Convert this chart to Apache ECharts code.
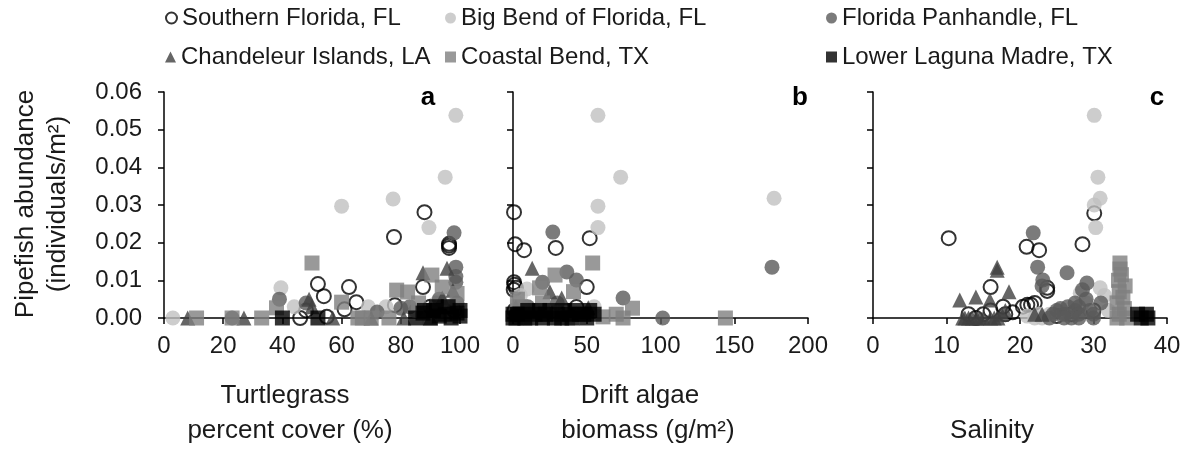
<!DOCTYPE html>
<html>
<head>
<meta charset="utf-8">
<script src="https://cdn.jsdelivr.net/npm/echarts@6/dist/echarts.min.js"></script>
<style>
html, body { margin: 0; padding: 0; background: #fff; }
#chart { width: 1187px; height: 456px; }
</style>
</head>
<body>
<div id="chart"></div>
<script>
var regions = ['Southern Florida, FL', 'Big Bend of Florida, FL', 'Florida Panhandle, FL',
    'Chandeleur Islands, LA', 'Coastal Bend, TX', 'Lower Laguna Madre, TX'];
var yTicks = [0, 0.01, 0.02, 0.03, 0.04, 0.05, 0.06];

// panel a: turtlegrass percent cover (%) vs abundance
var southA = [[46,0],[48,0.002],[52,0.009],[54,0.0058],[55,0.0003],[61,0.0023],[62.5,0.0082],[65,0.0042],
    [77.7,0.0215],[78,0.0034],[88,0.0281],[87.5,0.0082],[96.3,0.0186],[96.3,0.0192],[96.3,0.0197],[90,0.003],[98,0.002]];
var bigBendA = [[3,0],[39.5,0.008],[44,0.003],[60,0.0297],[69,0.003],[75,0.003],[77.4,0.0316],[89.5,0.024],
    [95,0.0374],[98.6,0.0538],[85,0.002],[92,0.004]];
var panhandleA = [[23,0],[39,0.005],[48,0.004],[72,0.0016],[80,0.0026],[83,0.003],[98,0.0226],[98.6,0.0135],
    [98.6,0.011],[98.6,0.0095],[93,0.005],[99,0.004]];
var chandeleurA = [[8,0],[27,0],[49,0.005],[57,0],[81,0],[87.5,0.012],[95.6,0.0132],[94,0.0053],[97.6,0.0074],
    [50,0.003],[70,0],[90,0]];
var coastalA = [[11,0],[23,0],[33,0],[38,0.0027],[50,0.0146],[60,0.0042],[65.5,0],[67,0],[70,0],[76,0],
    [78.6,0.0074],[82.3,0.0069],[90.5,0.0114],[94,0.0082],[86,0.004],[97,0.003],[99,0.0065],[92,0.0018]];
var lagunaA = [[40,0],[52,0],[87.5,0.0013],[91,0.002],[99,0.0013],[95,0.001],[100,0.002],[90,0],[97,0],[85,0],
    [88,0.002],[93,0.0005],[96,0.003],[100,0.0005],[92,0.003]];

// panel b: drift algae biomass (g/m2) vs abundance
var southB = [[0.7,0.0281],[1.4,0.0196],[7.5,0.018],[29,0.0186],[52,0.0212],[0.7,0.0095],[1,0.0088],[2,0.008],
    [0.5,0.0075],[50,0.0082],[43,0.0029],[1,0.002],[3,0.001]];
var bigBendB = [[57.6,0.0538],[73,0.0374],[57.6,0.0297],[57.6,0.024],[177,0.0318],[9.5,0.0077],[3,0.004],
    [15,0.002],[55,0.003],[5,0.006]];
var panhandleB = [[27,0.0228],[36.5,0.0122],[43,0.0101],[20,0.0095],[74.6,0.0053],[101.5,0],[175.6,0.0135],
    [10,0.003],[30,0.004]];
var chandeleurB = [[13,0.0132],[25,0.007],[33,0.0053],[51,0.0027],[2,0.003],[40,0.001],[20,0.001]];
var coastalB = [[54,0.0146],[28.5,0.0114],[18,0.008],[41,0.007],[81,0.0026],[74.6,0],[61,0.0003],[37,0],
    [144,0],[3,0.005],[5,0.003],[70,0.001],[20,0.004]];
var lagunaB = [[2,0],[5,0.001],[10,0.002],[15,0.001],[20,0],[25,0.002],[30,0.001],[35,0.002],[40,0],
    [45,0.001],[50,0],[55,0.001],[8,0],[28,0],[3,0.001],[12,0],[18,0.002],[22,0.001],[33,0],[38,0.001],
    [42,0.002],[48,0.001],[52,0.002],[0,0.001],[0,0]];

// panel c: salinity vs abundance
var southC = [[10.3,0.0212],[16,0.0082],[16,0.002],[17.7,0.003],[20.4,0.003],[20.9,0.0189],[22.6,0.018],
    [23.7,0.008],[23.7,0.0072],[28.5,0.0196],[30.1,0.0278],[15,0.001],[19,0.0015],[21,0.0035],[25,0.0005],[30,0.002],
    [13,0.001],[14,0],[18,0.001],[21.5,0.0035],[22,0.004],[27,0.001]];
var bigBendC = [[30.1,0.0538],[30.6,0.0374],[30.9,0.0318],[30.1,0.03],[30.3,0.024],[30.9,0.008],[28.2,0.0066],
    [21,0.0005],[22,0],[24,0.001],[29,0.004],[32,0.002],[22.5,0.001],[23,0],[26,0.001],[31.5,0.006]];
var panhandleC = [[21.8,0.0226],[22.4,0.0135],[23.1,0.0101],[23,0.0085],[26.4,0.012],[29.1,0.0093],[25,0.002],
    [26,0.001],[27,0],[28,0.003],[29,0.005],[30,0.001],[31,0.004],[24,0],[28.5,0.0075],[27.5,0.002],
    [25.5,0.0025],[26.5,0.003],[27.5,0.004],[28,0.001],[29.5,0.002],[26,0],[28,0],[30,0],[24.5,0.001]];
var chandeleurC = [[11.8,0.0048],[12.2,0],[14,0.0056],[14.1,0],[15.9,0.0048],[16.9,0.0127],[16.9,0.0135],
    [18.5,0.007],[15,0],[16,0],[17,0],[18,0.002],[13,0],[22,0.001],[12.5,0],[13.5,0],[14.5,0],[16.5,0],
    [17.5,0.001],[23,0.001]];
var coastalC = [[33.6,0.0146],[33.6,0.013],[33.8,0.0115],[33.4,0.01],[34.3,0.0085],[33.5,0.007],[34,0.0055],
    [33.2,0.004],[34.2,0.0025],[33.5,0.001],[33.2,0],[34.5,0]];
var lagunaC = [[36,0.001],[37.2,0.001],[36.5,0],[37.4,0]];

var panelData = [
    [southA, bigBendA, panhandleA, chandeleurA, coastalA, lagunaA],
    [southB, bigBendB, panhandleB, chandeleurB, coastalB, lagunaB],
    [southC, bigBendC, panhandleC, chandeleurC, coastalC, lagunaC]
];
var xRanges = [[0, 100, 20], [0, 200, 50], [0, 40, 10]];

var symbols = ['circle', 'circle', 'circle', 'triangle', 'rect', 'rect'];
var itemStyles = [
    {color: 'rgba(255,255,255,0)', borderColor: '#000', borderWidth: 2},
    {color: '#c0c0c0'},
    {color: '#5a5a5a'},
    {color: '#404040'},
    {color: '#808080'},
    {color: '#000'}
];
var symbolSizes = [14, 15, 15, 15, 15, 15];

var font = 'Liberation Sans, Arial, sans-serif';
var axisLineStyle = {color: '#000', width: 1.5};

var myChart = echarts.init(document.getElementById('chart'));

var grids = [], xAxes = [], yAxes = [], series = [];
var lefts = [164, 513, 873];
var widths = [296, 295, 294];
for (var p = 0; p < 3; p++) {
    grids.push({left: lefts[p], top: 92, width: widths[p], height: 226});
    xAxes.push({
        gridIndex: p, type: 'value',
        min: xRanges[p][0], max: xRanges[p][1], interval: xRanges[p][2],
        axisLine: {show: true, onZero: false, lineStyle: axisLineStyle},
        axisTick: {show: true, length: 6, lineStyle: axisLineStyle},
        axisLabel: {fontSize: 24, color: '#1a1a1a', fontFamily: font, margin: 16, showMinLabel: true, showMaxLabel: true},
        splitLine: {show: false}
    });
    yAxes.push({
        gridIndex: p, type: 'value',
        min: yTicks[0], max: yTicks[yTicks.length - 1], interval: 0.01,
        axisLine: {show: true, onZero: false, lineStyle: axisLineStyle},
        axisTick: {show: true, length: 6, lineStyle: axisLineStyle},
        axisLabel: {
            show: p === 0, fontSize: 24, color: '#1a1a1a', fontFamily: font, margin: 22,
            formatter: function (v) { return v.toFixed(2); }
        },
        splitLine: {show: false}
    });
    for (var s = 0; s < 6; s++) {
        series.push({
            name: regions[s], type: 'scatter',
            xAxisIndex: p, yAxisIndex: p,
            symbol: symbols[s], symbolSize: symbolSizes[s],
            itemStyle: itemStyles[s],
            data: panelData[p][s],
            z: 2 + s
        });
    }
}

var legendPos = [[165, 6], [445, 6], [826, 6], [165, 45], [445, 45], [826, 45]];
var legends = [];
for (var i = 0; i < 6; i++) {
    legends.push({
        data: [regions[i]], left: legendPos[i][0], top: legendPos[i][1],
        itemWidth: 11, itemHeight: 11, padding: 0,
        textStyle: {fontSize: 24, color: '#1a1a1a', fontFamily: font}
    });
}

function label(text, x, y, opts) {
    var o = {
        type: 'text', x: x, y: y,
        style: {text: text, font: '26px ' + font, fill: '#1a1a1a', align: 'center', verticalAlign: 'middle'}
    };
    if (opts) {
        for (var k in opts) { o[k] = opts[k]; }
    }
    return o;
}

var option = {
    animation: false,
    grid: grids,
    xAxis: xAxes,
    yAxis: yAxes,
    legend: legends,
    series: series,
    graphic: [
        label('Pipefish abundance', 26, 204, {rotation: Math.PI / 2}),
        label('(individuals/m\u00b2)', 58, 204, {rotation: Math.PI / 2}),
        label('Turtlegrass', 285, 396),
        label('percent cover (%)', 290, 431),
        label('Drift algae', 640, 396),
        label('biomass (g/m\u00b2)', 648, 431),
        label('Salinity', 992, 431),
        {type: 'text', x: 428, y: 98, style: {text: 'a', font: 'bold 26px ' + font, fill: '#000', align: 'center', verticalAlign: 'middle'}},
        {type: 'text', x: 800, y: 98, style: {text: 'b', font: 'bold 26px ' + font, fill: '#000', align: 'center', verticalAlign: 'middle'}},
        {type: 'text', x: 1157, y: 98, style: {text: 'c', font: 'bold 26px ' + font, fill: '#000', align: 'center', verticalAlign: 'middle'}}
    ]
};
myChart.setOption(option);
</script>
</body>
</html>
